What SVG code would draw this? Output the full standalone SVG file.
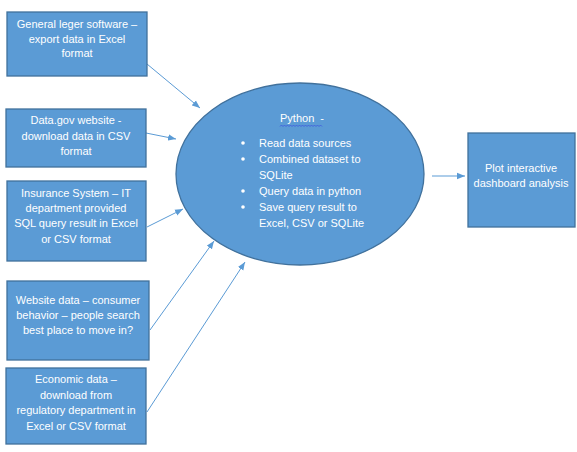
<svg xmlns="http://www.w3.org/2000/svg" width="577" height="452" viewBox="0 0 577 452">
<style>
.box{fill:#5B9BD5;stroke:#41719C;stroke-width:1.3}
.t{font-family:"Liberation Sans",Arial,sans-serif;font-size:11px;fill:#ffffff;text-anchor:middle}
.tl{font-family:"Liberation Sans",Arial,sans-serif;font-size:11px;fill:#ffffff}
.c{stroke:#5B9BD5;stroke-width:1;fill:none;marker-end:url(#ah)}
</style>
<defs>
<marker id="ah" viewBox="0 0 10 10" refX="10" refY="5" markerWidth="8" markerHeight="8" markerUnits="userSpaceOnUse" orient="auto">
<path d="M0,1 L10,5 L0,9 Z" fill="#5B9BD5"/>
</marker>
</defs>
<rect width="577" height="452" fill="#ffffff"/>
<g id="connectors">
<line class="c" x1="147" y1="64" x2="200" y2="108"/>
<line class="c" x1="146" y1="133" x2="176" y2="139"/>
<line class="c" x1="147" y1="227" x2="183" y2="209"/>
<line class="c" x1="150" y1="330" x2="214" y2="241"/>
<line class="c" x1="147" y1="412" x2="245" y2="262"/>
<line class="c" x1="432" y1="176" x2="465" y2="176"/>
</g>
<g id="n1">
<rect class="box" x="7" y="12" width="140" height="64"/>
<text class="t"><tspan x="77" y="28">General leger software –</tspan><tspan x="77" y="43">export data in Excel</tspan><tspan x="77" y="57">format</tspan></text>
</g>
<g id="n2">
<rect class="box" x="6" y="109" width="140" height="58"/>
<text class="t"><tspan x="76" y="124">Data.gov website -</tspan><tspan x="76" y="140">download data in CSV</tspan><tspan x="76" y="155">format</tspan></text>
</g>
<g id="n3">
<rect class="box" x="7" y="181" width="139" height="80"/>
<text class="t"><tspan x="76" y="197">Insurance System – IT</tspan><tspan x="76" y="212">department provided</tspan><tspan x="76" y="227">SQL query result in Excel</tspan><tspan x="76" y="243">or CSV format</tspan></text>
</g>
<g id="n4">
<rect class="box" x="7" y="281" width="142" height="79"/>
<text class="t"><tspan x="78" y="304">Website data – consumer</tspan><tspan x="78" y="319">behavior – people search</tspan><tspan x="78" y="334">best place to move in?</tspan></text>
</g>
<g id="n5">
<rect class="box" x="6" y="368" width="140" height="76"/>
<text class="t"><tspan x="76" y="383">Economic data –</tspan><tspan x="76" y="399">download from</tspan><tspan x="76" y="414">regulatory department in</tspan><tspan x="76" y="430">Excel or CSV format</tspan></text>
</g>
<g id="python">
<ellipse class="box" cx="300" cy="174" rx="124" ry="91"/>
<text class="tl" x="280" y="122" xml:space="preserve" style="white-space:pre">Python  -</text>
<path d="M280,126.5 l1.5,-1.5 l1.5,1.5 l1.5,-1.5 l1.5,1.5 l1.5,-1.5 l1.5,1.5 l1.5,-1.5 l1.5,1.5 l1.5,-1.5 l1.5,1.5 l1.5,-1.5 l1.5,1.5 l1.5,-1.5 l1.5,1.5 l1.5,-1.5 l1.5,1.5 l1.5,-1.5 l1.5,1.5 l1.5,-1.5 l1.5,1.5 l1.5,-1.5 l1.5,1.5 l1.5,-1.5 l1.5,1.5 l1.5,-1.5 l1.5,1.5 l1.5,-1.5 l1.5,1.5" fill="none" stroke="#3B4FE0" stroke-width="0.7"/>
<g fill="#ffffff">
<circle cx="243" cy="143" r="1.8"/>
<circle cx="243" cy="159" r="1.8"/>
<circle cx="243" cy="191" r="1.8"/>
<circle cx="243" cy="207" r="1.8"/>
</g>
<text class="tl"><tspan x="259" y="147">Read data sources</tspan><tspan x="259" y="163">Combined dataset to</tspan><tspan x="259" y="179">SQLite</tspan><tspan x="259" y="195">Query data in python</tspan><tspan x="259" y="211">Save query result to</tspan><tspan x="259" y="227">Excel, CSV or SQLite</tspan></text>
</g>
<g id="n6">
<rect class="box" x="468" y="133" width="107" height="94"/>
<text class="t"><tspan x="521" y="172">Plot interactive</tspan><tspan x="521" y="187">dashboard analysis</tspan></text>
</g>
</svg>
